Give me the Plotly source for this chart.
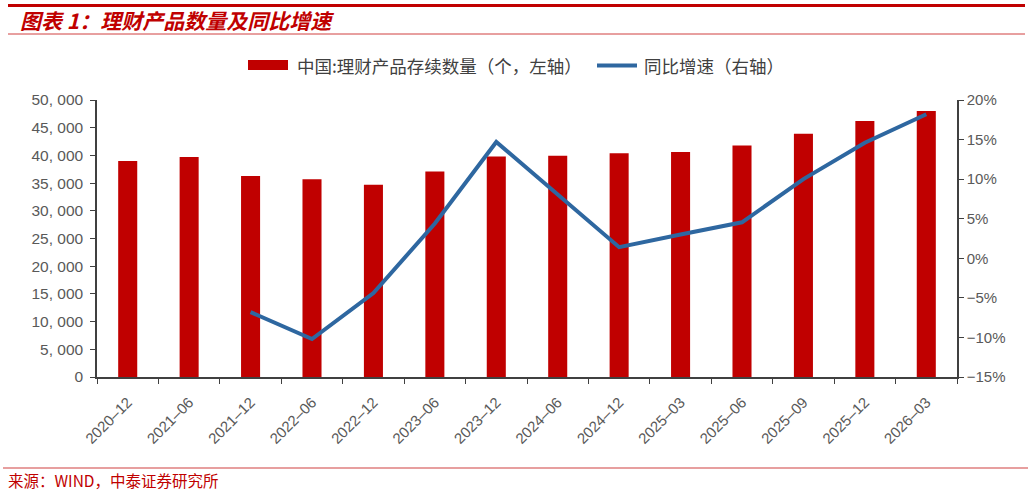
import plotly.graph_objects as go

categories = ["2020-12", "2021-06", "2021-12", "2022-06", "2022-12", "2023-06", "2023-12",
              "2024-06", "2024-12", "2025-03", "2025-06", "2025-09", "2025-12", "2026-03"]
counts = [39000, 39700, 36300, 35700, 34700, 37100, 39800,
          39950, 40400, 40600, 41800, 43900, 46200, 48000]
yoy = [None, None, -6.8, -10.2, -4.4, 4.4, 14.7,
       8.0, 1.4, 3.0, 4.55, 10.0, 14.6, 18.2]
left_ticks = [0, 5000, 10000, 15000, 20000, 25000, 30000, 35000, 40000, 45000, 50000]
left_labels = ["0", "5, 000", "10, 000", "15, 000", "20, 000", "25, 000", "30, 000",
               "35, 000", "40, 000", "45, 000", "50, 000"]
right_ticks = [-15, -10, -5, 0, 5, 10, 15, 20]
right_labels = ["−15%", "−10%", "−5%", "0%", "5%", "10%", "15%", "20%"]
x_labels = [c.replace("-", "–") for c in categories]
bar_name = "中国:理财产品存续数量（个，左轴）"
line_name = "同比增速（右轴）"

W, H = 1031, 492
L, R, T, B = 97, 957, 100, 377

def px(x):
    return (x - L) / (R - L)

def py(y):
    return (B - y) / (B - T)

FONT = "Noto Sans CJK SC"
RED = "#C00000"
BLUE = "#2E67A0"
GRAY = "#595959"
NUMF = "Liberation Sans, Arial"

fig = go.Figure()
fig.add_trace(go.Bar(
    x=categories, y=counts, name=bar_name,
    marker=dict(color=RED, line=dict(width=0)), width=0.31, yaxis="y"))
fig.add_trace(go.Scatter(
    x=categories, y=yoy, name=line_name, mode="lines",
    line=dict(color=BLUE, width=4), yaxis="y2", connectgaps=False))

axis_common = dict(showline=True, linecolor="#404040", linewidth=1.5,
                   ticks="outside", ticklen=5, tickcolor="#404040",
                   showgrid=False, zeroline=False)

fig.update_layout(
    width=W, height=H,
    margin=dict(l=L, r=W - R, t=T, b=H - B),
    paper_bgcolor="white", plot_bgcolor="white",
    font=dict(family=FONT, color=GRAY, size=14),
    showlegend=False,
    xaxis=dict(
        type="category", tickmode="array", tickvals=categories, ticktext=x_labels,
        tickangle=-45, tickfont=dict(family=NUMF, size=15, color=GRAY),
        ticklabelstandoff=9,
        tickson="boundaries", range=[-0.5, 13.5], fixedrange=True, **axis_common),
    yaxis=dict(
        range=[0, 50000], tickmode="array", tickvals=left_ticks, ticktext=left_labels,
        tickfont=dict(family=NUMF, size=15.5, color=GRAY), ticklabelstandoff=4,
        **axis_common),
    yaxis2=dict(
        range=[-15, 20], overlaying="y", side="right",
        tickmode="array", tickvals=right_ticks, ticktext=right_labels,
        tickfont=dict(family=NUMF, size=15, color=GRAY),
        **axis_common),
)

shapes = [
    dict(type="line", xref="paper", yref="paper", x0=px(8), x1=px(1025), y0=py(5.5), y1=py(5.5),
         line=dict(color=RED, width=3)),
    dict(type="line", xref="paper", yref="paper", x0=px(8), x1=px(1025), y0=py(34), y1=py(34),
         line=dict(color="#D04040", width=1)),
    dict(type="line", xref="paper", yref="paper", x0=px(3), x1=px(1028), y0=py(468), y1=py(468),
         line=dict(color="#D04040", width=1.2)),
    # custom legend symbols
    dict(type="rect", xref="paper", yref="paper", x0=px(248), x1=px(288), y0=py(70), y1=py(60),
         fillcolor=RED, line=dict(width=0)),
    dict(type="line", xref="paper", yref="paper", x0=px(597), x1=px(637), y0=py(65.5), y1=py(65.5),
         line=dict(color=BLUE, width=4)),
]
fig.update_layout(shapes=shapes)

fig.add_annotation(xref="paper", yref="paper", x=px(295), y=py(65), xanchor="left", yanchor="middle",
                   text=bar_name, showarrow=False,
                   font=dict(family=FONT, size=17.5, color="#404040"))
fig.add_annotation(xref="paper", yref="paper", x=px(642), y=py(65), xanchor="left", yanchor="middle",
                   text=line_name, showarrow=False,
                   font=dict(family=FONT, size=17.5, color="#404040"))

fig.add_annotation(xref="paper", yref="paper", x=px(18), y=py(20), xanchor="left", yanchor="middle",
                   text="<b><i>图表 1：理财产品数量及同比增速</i></b>", showarrow=False,
                   font=dict(family=FONT, size=21, color=RED))
fig.add_annotation(xref="paper", yref="paper", x=px(6), y=py(480), xanchor="left", yanchor="middle",
                   text="来源：WIND，中泰证券研究所", showarrow=False,
                   font=dict(family=FONT, size=15.5, color=RED))

fig.write_html("out.html")
